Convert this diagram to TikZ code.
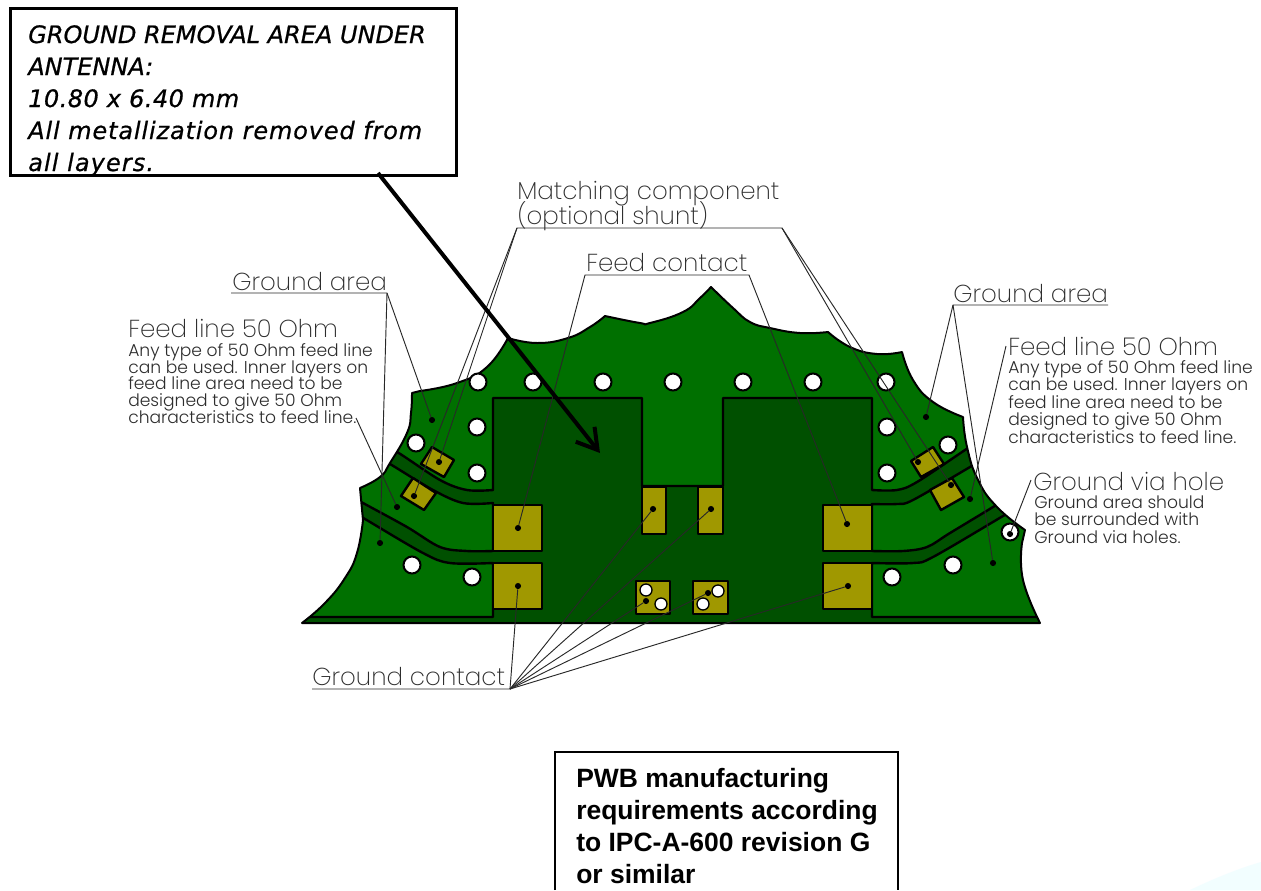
\documentclass[tikz,border=0pt]{standalone}
\usepackage{fontspec}
\usetikzlibrary{arrows.meta}
\setmainfont{Liberation Sans}
\newfontfamily\gothic{Poppins Light}
\newfontfamily\gothicthin{Poppins ExtraLight}
\newfontface\boxfont[FakeBold=0.7]{DejaVu Sans Oblique}
\definecolor{boardlight}{RGB}{0,112,0}
\definecolor{boarddark}{RGB}{0,80,0}
\definecolor{padgold}{RGB}{160,152,0}
\definecolor{labelgrey}{RGB}{45,45,45}
\definecolor{leadergrey}{RGB}{40,40,40}
\newcommand\tightlines{\lineskiplimit -20pt\relax}
\newcommand\boardoutline{(302,623)
 -- plot[smooth,tension=.8] coordinates {(302,623) (325,603) (345,578) (357,553) (363,520)}
 -- (360,488)
 -- plot[smooth,tension=.8] coordinates {(360,488) (380,477) (390,463) (407,433) (411,413) (412,393)}
 -- (420,391)
 -- plot[smooth,tension=.8] coordinates {(420,391) (457,383) (487,367) (508,338)}
 -- plot[smooth,tension=.8] coordinates {(508,338) (537,343) (568,338) (590,327) (605,316)}
 -- plot[smooth,tension=.8] coordinates {(605,316) (640,323) (650,323) (683,312) (700,298) (711,287)}
 -- plot[smooth,tension=.8] coordinates {(711,287) (733,308) (750,322) (770,328) (800,333) (828,332)}
 -- plot[smooth,tension=.8] coordinates {(828,332) (850,347) (877,354) (902,352)}
 -- plot[smooth,tension=.8] coordinates {(902,352) (913,380) (933,402) (963,417)}
 -- plot[smooth,tension=.8] coordinates {(963,417) (967,447) (978,480) (997,507) (1025,530)}
 -- (1022,543)
 -- plot[smooth,tension=.8] coordinates {(1022,543) (1023,580) (1040,623)}
 -- cycle}
\tikzset{
 layer/.style={fill=boardlight,draw=black,line width=1.8pt,line join=round},
 pad/.style={fill=padgold,draw=black,line width=1.8pt,line join=round},
 via/.style={circle,fill=white,draw=black,line width=1.5pt,minimum size=17*0.75pt,inner sep=0pt},
 leader/.style={draw=leadergrey,line width=0.7pt},
 dotmark/.style={circle,fill=black,minimum size=4.6pt,inner sep=0pt},
 biglabel/.style={anchor=base west,inner sep=0pt,text=labelgrey,font=\gothicthin\fontsize{18.4pt}{20pt}\selectfont},
 smalllabel/.style={anchor=base west,inner sep=0pt,text=labelgrey,font=\gothic\fontsize{12.85pt}{12.4pt}\selectfont\tightlines,align=left},
 smalllabelb/.style={smalllabel,font=\gothic\fontsize{12.85pt}{13.1pt}\selectfont\tightlines},
}
\newcommand\spaced[2]{{\addfontfeature{LetterSpace=#1}#2}}
\begin{document}
\begin{tikzpicture}[x=0.75pt,y=-0.75pt]
\useasboundingbox (0,0) rectangle (1261,890);
\fill[white] (0,0) rectangle (1261,890);
\fill[blue!4!cyan!5!white] (1190,890) .. controls (1215,878) and (1240,868) .. (1261,862) -- (1261,890) -- cycle;
% board
\fill[boarddark] \boardoutline;
\begin{scope}
\clip \boardoutline;
\path[layer] (380,446)
 -- plot[smooth,tension=.55] coordinates {(380,446) (397,452) (440,480) (467,490) (493,490)}
 -- (493,398) -- (642,398) -- (642,486) -- (723,486) -- (723,398) -- (872,398) -- (872,490)
 -- plot[smooth,tension=.55] coordinates {(872,490) (897,490) (917,482) (965,450) (985,437)}
 -- (1000,280) -- (340,280) -- cycle;
\path[layer] (370,453)
 -- plot[smooth,tension=.55] coordinates {(370,453) (390,464) (433,490) (463,503) (493,503)}
 -- (493,551)
 -- plot[smooth,tension=.55] coordinates {(493,551) (467,551) (440,547) (407,527) (363,503) (345,493)}
 -- cycle;
\path[layer] (345,507)
 -- plot[smooth,tension=.55] coordinates {(345,507) (365,519) (423,553) (450,563) (493,563)}
 -- (493,617) -- (300,617) -- (300,507) -- cycle;
\path[layer] (872,504)
 -- plot[smooth,tension=.55] coordinates {(872,504) (897,504) (913,500) (970,467) (990,455)}
 -- (1012,495)
 -- plot[smooth,tension=.55] coordinates {(1012,495) (993,507) (950,533) (927,547) (903,551) (872,551)}
 -- cycle;
\path[layer] (1025,503)
 -- plot[smooth,tension=.55] coordinates {(1025,503) (1003,516) (933,557) (913,563) (872,563)}
 -- (872,617) -- (1060,617) -- (1060,503) -- cycle;
\end{scope}
\draw[draw=black,line width=1.5pt,line join=round] \boardoutline;
\draw[black,line width=1.9pt] (302,623) -- (1040,623);
% pads
\draw[pad] (493,505) rectangle (542,551);
\draw[pad] (493,563) rectangle (542,609);
\draw[pad] (823,505) rectangle (872,551);
\draw[pad] (823,563) rectangle (872,609);
\draw[pad] (642,487) rectangle (666,534);
\draw[pad] (698,487) rectangle (723,534);
\draw[pad] (636,581) rectangle (670,614);
\draw[pad] (693,581) rectangle (728,614);
\draw[pad] (432,447) -- (454,460) -- (444,477) -- (421,464) -- cycle;
\draw[pad] (401,496) -- (413,478) -- (436,493) -- (424,510) -- cycle;
\draw[pad] (911,461) -- (933,447) -- (944,464) -- (921,477) -- cycle;
\draw[pad] (930,490) -- (952,478) -- (964,497) -- (941,510) -- cycle;
% vias
\foreach \n/\p in {a/{478,382},b/{533,382},c/{603,382},d/{673,382},e/{743,382},f/{813,382},g/{886,382},
 h/{887,427},i/{887,473},j/{948,445},k/{1010,532},l/{953,565},m/{892,577},n/{477,427},o/{477,473},
 p/{416,443},q/{412,565},r/{472,577}}{
 \node[via] (via\n) at (\p) {};
}
\node[via,minimum size=12*0.75pt,line width=1pt] (viap1) at (646,590) {};
\node[via,minimum size=12*0.75pt,line width=1pt] (viap2) at (661,604) {};
\node[via,minimum size=12*0.75pt,line width=1pt] (viap3) at (718,591) {};
\node[via,minimum size=12*0.75pt,line width=1pt] (viap4) at (703,604) {};
% leader junctions
\coordinate (gaL) at (387,293);
\coordinate (gaLs) at (231,293);
\coordinate (mcL) at (517,228);
\coordinate (mcR) at (782,228);
\coordinate (fcL) at (585,275);
\coordinate (fcR) at (749,275);
\coordinate (gcL) at (312,689);
\coordinate (gcR) at (510,689);
\coordinate (gaRs) at (953,305);
\coordinate (gaRe) at (1108,305);
\coordinate (flL) at (356,418);
\coordinate (flR) at (1006,346);
\coordinate (gvh) at (1031,480);
% dots
\foreach \n/\p in {d1/{432,420},d2/{380,543},d3/{397,507},d4/{439,462},d5/{414,496},d6/{918,462},d7/{951,485},
 d8/{518,528},d9/{847,524},d10/{518,586},d11/{653,509},d12/{646,601},d13/{711,509},d14/{708,593},d15/{848,586},
 d16/{926,417},d17/{993,563},d18/{970,499},d19/{1010,534}}{
 \node[dotmark] (\n) at (\p) {};
}
% leaders
\draw[leader] (gaLs) -- (gaL) -- (d1);
\draw[leader] (gaL) -- (d2);
\draw[leader] (flL) -- (d3);
\draw[leader] (d4) -- (mcL) -- (mcR) -- (d6);
\draw[leader] (d5) -- (mcL);
\draw[leader] (d7) -- (mcR);
\draw[leader] (d8) -- (fcL) -- (fcR) -- (d9);
\draw[leader] (gcL) -- (gcR) -- (d10);
\foreach \t in {d11,d12,d13,d14,d15}{\draw[leader] (gcR) -- (\t);}
\draw[leader] (d16) -- (gaRs) -- (gaRe);
\draw[leader] (gaRs) -- (d17);
\draw[leader] (flR) -- (d18);
\draw[leader] (gvh) -- (d19);
% labels
\node[biglabel] (tmc1) at (517,199) {Matching component};
\node[biglabel] (tmc2) at (517,224) {(optional shunt)};
\node[biglabel] (tfc) at (586,271) {Feed contact};
\node[biglabel] (tgal) at (232,290) {Ground area};
\node[biglabel] (tgar) at (953,302) {Ground area};
\node[biglabel] (tgc) at (312,685) {Ground contact};
\node[biglabel] (tfl) at (128,337) {Feed line 50 Ohm};
\node[smalllabel] (sfl) at (128,423) {Any type of 50 Ohm feed line\\can be used. Inner layers on\\feed line area need to be\\designed to give 50 Ohm\\characteristics to feed line.};
\node[biglabel] (tfr) at (1008,355) {Feed line 50 Ohm};
\node[smalllabelb] (sfr) at (1008,443) {Any type of 50 Ohm feed line\\can be used. Inner layers on\\feed line area need to be\\designed to give 50 Ohm\\characteristics to feed line.};
\node[biglabel] (tgv) at (1033,490) {Ground via hole};
\node[smalllabelb] (sgv) at (1034,543) {Ground area should\\be surrounded with\\Ground via holes.};
% boxes
\coordinate (arrowend) at (600,453);
\node[draw=black,fill=white,line width=1.9pt,anchor=north west,inner sep=0pt,minimum width=446*0.75pt,minimum height=167*0.75pt] (box1) at (9,7) {};
\draw[black,line width=3pt,-{Straight Barb[length=15pt,width=18pt,line width=3pt]}] (378,173) -- (arrowend);
\node[anchor=base west,inner sep=0pt,align=left,font=\boxfont\fontsize{18pt}{24pt}\selectfont] (box1text) at (28,171) {GROUND REMOVAL AREA UNDER\\ANTENNA:\\\spaced{1.9}{10.80 x 6.40 mm}\\\spaced{3.6}{All metallization removed from}\\\spaced{4.5}{all layers.}};
\path[draw=black,line width=1pt,fill=white] (555,890) -- (555,752) -- (898,752) -- (898,890);
\node[anchor=base west,inner sep=0pt,align=left,font=\bfseries\fontsize{19.85pt}{24pt}\selectfont] (box2text) at (576,883) {PWB manufacturing\\requirements according\\to IPC-A-600 revision G\\or similar};
\end{tikzpicture}
\end{document}
